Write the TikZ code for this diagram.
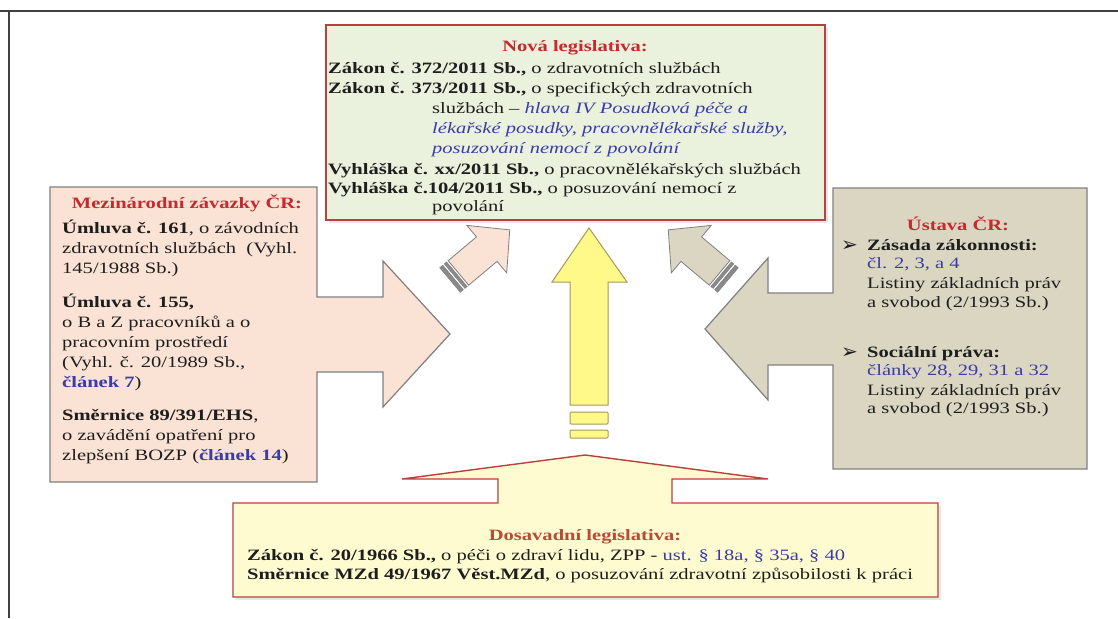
\documentclass[tikz,border=0pt]{standalone}
\usepackage{fontspec}
\setmainfont{Liberation Serif}[FakeStretch=1.3]
\newfontfamily\symfam{DejaVu Sans}
\definecolor{txtc}{HTML}{1E1E1E}
\definecolor{ttlred}{HTML}{C42A2E}
\definecolor{ttlbrown}{HTML}{B84A36}
\definecolor{lb}{HTML}{3C3CA8}
\definecolor{greenfill}{HTML}{EAF1DD}
\definecolor{peachfill}{HTML}{FAE2D5}
\definecolor{khakifill}{HTML}{DAD6C2}
\definecolor{yelfill}{HTML}{FFFBD0}
\definecolor{arrowyel}{HTML}{FFF98A}
\definecolor{olive}{HTML}{A8965A}
\definecolor{redline}{HTML}{B8403E}
\definecolor{grayline}{HTML}{808080}
\definecolor{stripe}{HTML}{8A8A8A}
\definecolor{framec}{HTML}{404040}
\newcommand\myfs{\fontsize{15.8}{19}\selectfont}
\begin{document}
\begin{tikzpicture}[x=1pt,y=-1pt,
  txt/.style={anchor=base west, inner sep=0pt, text=txtc, font=\myfs},
  ttl/.style={anchor=base, inner sep=0pt, font=\myfs\bfseries, text=ttlred},
  blt/.style={anchor=base west, inner sep=0pt, text=txtc, font=\symfam\fontsize{20}{20}\selectfont},
  redbox/.style={draw=redline, line width=1.4pt},
  graybox/.style={draw=grayline, line width=1.2pt, line join=miter},
  smallarrow/.style={draw=grayline, line width=0.8pt},
  stripebar/.style={fill=stripe, draw=grayline, line width=0.5pt},
  yelarrow/.style={fill=arrowyel, draw=olive, line width=1pt}
]
\useasboundingbox (0,0) rectangle (1118,618);
\fill[white] (0,0) rectangle (1118,618);
% frame
\draw[framec, line width=1.5pt] (0,11) -- (1118,11);
\draw[framec, line width=1.5pt] (9,11) -- (9,618);

% top box
\fill[black!9] (329,28) rectangle (828,223);
\draw[redbox, fill=greenfill] (326,25) rectangle (825,220);

% left box with arrow
\draw[graybox, fill=peachfill] (50,187) -- (317,187) -- (317,297) -- (383,297) -- (383,261)
  -- (450,334) -- (383,407) -- (383,372) -- (317,372) -- (317,482) -- (50,482) -- cycle;

% right box with arrow
\draw[graybox, fill=khakifill] (1087,188) -- (833,188) -- (833,293) -- (768,293) -- (768,258)
  -- (705,329) -- (768,400) -- (768,365) -- (833,365) -- (833,469) -- (1087,469) -- cycle;

% bottom box with arrow
\fill[black!9] (236,506) rectangle (941,600);
\draw[redbox, fill=yelfill] (233,503) -- (498,503) -- (498,479) -- (402,479) -- (585,455)
  -- (768,479) -- (672,479) -- (672,503) -- (938,503) -- (938,597) -- (233,597) -- cycle;

% central arrow
\draw[yelarrow] (570,405) -- (570,282) -- (552,282) -- (589,228) -- (627,282) -- (608,282)
  -- (608,405) -- cycle;
\draw[yelarrow, rounded corners=1pt] (570,412) rectangle (608,424);
\draw[yelarrow, rounded corners=1pt] (570,430) rectangle (608,438);

% small striped arrows
\begin{scope}[shift={(450,280)}, rotate=40]
  \draw[stripebar] (0,-16) rectangle (4,16);
  \draw[stripebar] (6,-16) rectangle (9,16);
  \draw[smallarrow, fill=peachfill] (11,-16) -- (48,-16) -- (48,-31) -- (78,0) -- (48,31)
    -- (48,16) -- (11,16) -- cycle;
\end{scope}
\begin{scope}[shift={(728,280)}, rotate=140]
  \draw[stripebar] (0,-16) rectangle (4,16);
  \draw[stripebar] (6,-16) rectangle (9,16);
  \draw[smallarrow, fill=khakifill] (11,-16) -- (48,-16) -- (48,-31) -- (78,0) -- (48,31)
    -- (48,16) -- (11,16) -- cycle;
\end{scope}

% top box text
\node[ttl] (nt) at (575,52) {Nová legislativa:};
\node[txt] (n1) at (328,74) {\textbf{Zákon č. 372/2011 Sb.,} o zdravotních službách};
\node[txt] (n2) at (328,93) {\textbf{Zákon č. 373/2011 Sb.,} o specifických zdravotních};
\node[txt] (n3) at (432,113) {službách – {\itshape\color{lb}hlava IV Posudková péče a}};
\node[txt] (n4) at (432,133) {{\itshape\color{lb}lékařské posudky, pracovnělékařské služby,}};
\node[txt] (n5) at (432,153) {{\itshape\color{lb}posuzování nemocí z povolání}};
\node[txt] (n6) at (328,174) {\textbf{Vyhláška č. xx/2011 Sb.,} o pracovnělékařských službách};
\node[txt] (n7) at (328,193) {\textbf{Vyhláška č.104/2011 Sb.,} o posuzování nemocí z};
\node[txt] (n8) at (432,211) {povolání};

% left box text
\node[ttl] (mt) at (187,208) {Mezinárodní závazky ČR:};
\node[txt] (m1) at (62,233) {\textbf{Úmluva č. 161}, o závodních};
\node[txt] (m2) at (62,253) {zdravotních službách\ \ (Vyhl.};
\node[txt] (m3) at (62,273) {145/1988 Sb.)};
\node[txt] (m4) at (62,307) {\textbf{Úmluva č. 155,}};
\node[txt] (m5) at (62,327) {o B a Z pracovníků a o};
\node[txt] (m6) at (62,347) {pracovním prostředí};
\node[txt] (m7) at (62,367) {(Vyhl. č. 20/1989 Sb.,};
\node[txt] (m8) at (62,387) {{\bfseries\color{lb}článek 7})};
\node[txt] (m9) at (62,420) {\textbf{Směrnice 89/391/EHS},};
\node[txt] (m10) at (62,440) {o zavádění opatření pro};
\node[txt] (m11) at (62,460) {zlepšení BOZP ({\bfseries\color{lb}článek 14})};

% right box text
\node[ttl] (ut) at (958,230) {Ústava ČR:};
\node[blt] (ub1) at (841,251) {➢};
\node[txt] (u1) at (867,250) {\textbf{Zásada zákonnosti:}};
\node[txt] (u2) at (867,268) {{\color{lb}čl. 2, 3, a 4}};
\node[txt] (u3) at (867,288) {Listiny základních práv};
\node[txt] (u4) at (867,307) {a svobod (2/1993 Sb.)};
\node[blt] (ub2) at (841,358) {➢};
\node[txt] (u5) at (867,357) {\textbf{Sociální práva:}};
\node[txt] (u6) at (867,375) {{\color{lb}články 28, 29, 31 a 32}};
\node[txt] (u7) at (867,395) {Listiny základních práv};
\node[txt] (u8) at (867,413) {a svobod (2/1993 Sb.)};

% bottom box text
\node[ttl, text=ttlbrown] (dt) at (585,540) {Dosavadní legislativa:};
\node[txt] (d1) at (247,560) {\textbf{Zákon č. 20/1966 Sb.,} o péči o zdraví lidu, ZPP - {\color{lb}ust. § 18a, § 35a, § 40}};
\node[txt] (d2) at (247,579) {\textbf{Směrnice MZd 49/1967 Věst.MZd}, o posuzování zdravotní způsobilosti k práci};
\end{tikzpicture}
\end{document}
